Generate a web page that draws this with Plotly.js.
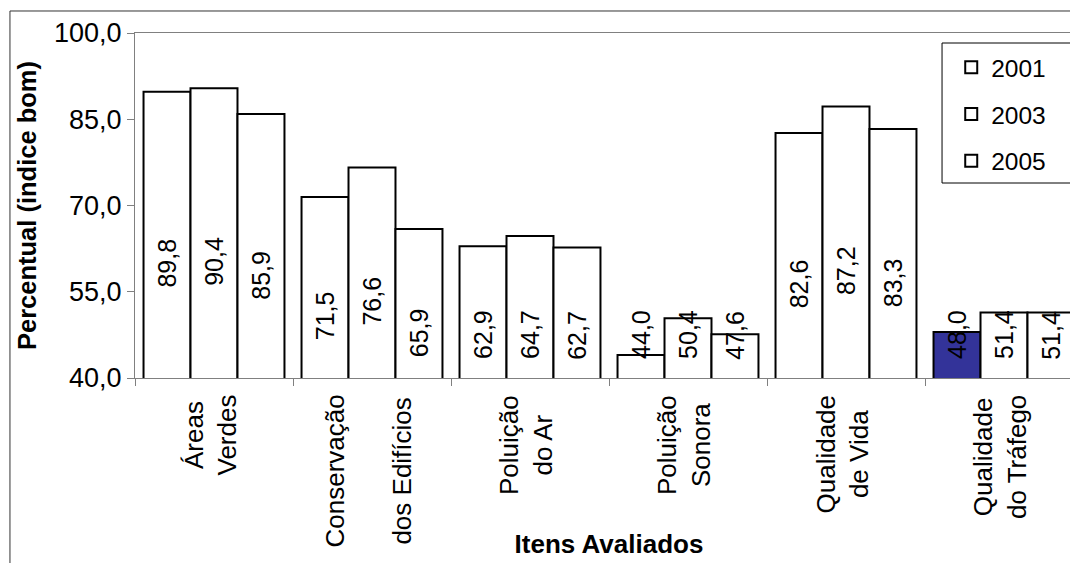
<!DOCTYPE html>
<html>
<head>
<meta charset="utf-8">
<script src="https://cdn.plot.ly/plotly-3.0.1.min.js"></script>
<style>
  html, body { margin: 0; padding: 0; overflow: hidden; background: #fff; }
  #chart { width: 1100px; height: 563px; }
</style>
</head>
<body>
<div id="chart"></div>
<script>
// ---- data ----
var categories = ['Áreas<br>Verdes', 'Conservação<br>\u00a0<br>dos Edifícios', 'Poluição<br>do Ar',
                  'Poluição<br>Sonora', 'Qualidade<br>de Vida', 'Qualidade<br>do Tráfego'];
var seriesNames = ['2001', '2003', '2005'];
var values2001 = [89.8, 71.5, 62.9, 44.0, 82.6, 48.0];
var values2003 = [90.4, 76.6, 64.7, 50.4, 87.2, 51.4];
var values2005 = [85.9, 65.9, 62.7, 47.6, 83.3, 51.4];
var yTickVals = [40, 55, 70, 85, 100];

var FONT = 'Liberation Sans, Arial, sans-serif';
var bargap = 0.108;
var barW = (1 - bargap) / 3;

var allSeries = [values2001, values2003, values2005];
var fill2001 = values2001.map(function (v, i) { return i === values2001.length - 1 ? '#333399' : '#ffffff'; });

var traces = allSeries.map(function (vals, s) {
  return {
    type: 'bar',
    name: seriesNames[s],
    x: categories,
    y: vals,
    legendgroup: seriesNames[s],
    marker: { color: s === 0 ? fill2001 : '#ffffff', line: { color: '#000000', width: 2 } },
    hoverinfo: 'none'
  };
});

var annotations = [];
// data labels
allSeries.forEach(function (vals, s) {
  vals.forEach(function (v, i) {
    annotations.push({
      x: i + (s - 1) * barW, xref: 'x',
      y: Math.max((v + 30) / 2, 47.5), yref: 'y',
      text: v.toFixed(1).replace('.', ','),
      textangle: -90, showarrow: false,
      font: { family: FONT, size: 25, color: '#000' }
    });
  });
});
// category labels
categories.forEach(function (c, i) {
  annotations.push({
    x: i, xref: 'x', xshift: -4, y: 0, yref: 'paper', yanchor: 'top', yshift: -15,
    text: c, textangle: -90, align: 'center', showarrow: false,
    font: { family: FONT, size: 26, color: '#000' }
  });
});

var layout = {
  width: 1100, height: 563,
  margin: { l: 135, r: 17, t: 33, b: 185 },
  paper_bgcolor: '#ffffff', plot_bgcolor: '#ffffff',
  separators: ',.',
  barmode: 'group', bargap: bargap, bargroupgap: 0,
  font: { family: FONT, size: 24, color: '#000' },
  showlegend: true,
  legend: {
    x: 0.861, xanchor: 'left', y: 0.966, yanchor: 'top',
    bgcolor: 'rgba(0,0,0,0)', borderwidth: 0,
    traceorder: 'grouped', tracegroupgap: 12,
    font: { family: FONT, size: 24.5, color: '#000' }
  },
  xaxis: {
    type: 'category', range: [-0.5, 5.5],
    showline: true, linecolor: '#808080', linewidth: 1, mirror: true,
    ticks: 'outside', tickson: 'boundaries', ticklen: 7, tickcolor: '#808080', tickwidth: 1,
    showticklabels: false, showgrid: false, zeroline: false,
    title: { text: '<b>Itens Avaliados</b>', font: { family: FONT, size: 26, color: '#000' }, standoff: 156 }
  },
  yaxis: {
    range: [40, 100], tickvals: yTickVals, tickformat: '.1f',
    showline: true, linecolor: '#808080', linewidth: 1, mirror: true,
    ticks: 'outside', ticklen: 7, tickcolor: '#808080', tickwidth: 1,
    showgrid: false, zeroline: false,
    tickfont: { family: FONT, size: 27, color: '#000' },
    title: { text: '<b>Percentual (indice bom)</b>', font: { family: FONT, size: 25.5, color: '#000' }, standoff: 10 }
  },
  shapes: [
    { type: 'rect', xref: 'paper', yref: 'paper', x0: -0.1319, x1: 1.1, y0: -0.6, y1: 1.0638,
      line: { color: '#333333', width: 1 }, fillcolor: 'rgba(0,0,0,0)', layer: 'above' },
    { type: 'rect', xref: 'paper', yref: 'paper', x0: 0.8513, x1: 1.1, y0: 0.5652, y1: 0.971,
      line: { color: '#000000', width: 1 }, fillcolor: 'rgba(0,0,0,0)', layer: 'above' }
  ],
  annotations: annotations
};

Plotly.newPlot('chart', traces, layout, { displayModeBar: false, staticPlot: true });
</script>
</body>
</html>
